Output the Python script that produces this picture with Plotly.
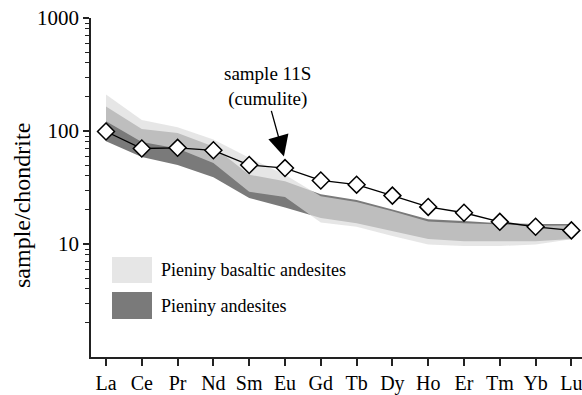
import plotly.graph_objects as go

elements = ["La", "Ce", "Pr", "Nd", "Sm", "Eu", "Gd", "Tb", "Dy", "Ho", "Er", "Tm", "Yb", "Lu"]
sample_11s = [99, 70, 71, 67.5, 50, 47, 36.5, 33.5, 26.8, 21.3, 18.9, 15.7, 14.2, 13.2]

basaltic_upper = [210, 125, 108, 84, 58, 41, 26.5, 23.5, 19.5, 15.8, 15.3, 14.8, 14.5, 14.6]
basaltic_lower = [122, 80, 70, 52, 29, 26, 15.5, 14.2, 11.8, 9.9, 9.6, 9.6, 9.9, 11.0]
andesite_upper = [165, 104, 96, 73, 41, 36, 27.5, 24.5, 20.2, 16.6, 16.0, 15.3, 15.0, 15.0]
andesite_lower = [81, 59, 50, 39, 25.5, 21, 17.0, 15.3, 13.0, 11.1, 10.6, 10.6, 10.6, 11.1]

y_tick_vals = [10, 100, 1000]
y_tick_text = ["10", "100", "1000"]
y_minor_vals = [m * d for d in (1, 10, 100) for m in range(2, 10)]

legend_labels = ["Pieniny basaltic andesites", "Pieniny andesites"]

FONT = "Liberation Serif"
DARK = "#7a7a7a"
LIGHT = "rgba(219,219,219,0.7)"

idx = list(range(len(elements)))

fig = go.Figure()

fig.add_trace(go.Scatter(
    x=idx + idx[::-1], y=andesite_upper + andesite_lower[::-1],
    fill="toself", fillcolor=DARK, line=dict(width=0), mode="lines",
    hoverinfo="skip", showlegend=False))
fig.add_trace(go.Scatter(
    x=idx + idx[::-1], y=basaltic_upper + basaltic_lower[::-1],
    fill="toself", fillcolor=LIGHT, line=dict(width=0), mode="lines",
    hoverinfo="skip", showlegend=False))
fig.add_trace(go.Scatter(
    x=idx, y=sample_11s, mode="lines+markers",
    line=dict(color="black", width=1.3),
    marker=dict(symbol="diamond", size=13, color="white",
                line=dict(color="black", width=1.5)),
    showlegend=False))

L, T, B = 91, 18, 38
W, H = 582, 395
pw, ph = W - L, H - T - B
x0px = 106
step = 35.8
xmin = -(x0px - L) / step
xmax = xmin + pw / step

fig.update_layout(
    width=W, height=H,
    margin=dict(l=L, r=0, t=T, b=B, pad=0),
    paper_bgcolor="white", plot_bgcolor="white",
    font=dict(family=FONT, color="black"),
    showlegend=False,
    xaxis=dict(
        range=[xmin, xmax], tickmode="array", tickvals=idx, ticktext=elements,
        showgrid=False, zeroline=False, showline=True, linecolor="#222",
        linewidth=1.5, ticks="outside", ticklen=7, tickwidth=1.5,
        tickcolor="#222", tickfont=dict(family=FONT, size=20, color="black"),
        ticklabeloverflow="allow", automargin=False),
    yaxis=dict(
        type="log", range=[0, 3], tickmode="array", tickvals=y_tick_vals,
        ticktext=y_tick_text, showgrid=False, zeroline=False, showline=True,
        linecolor="#222", linewidth=1.5, ticks="outside", ticklen=6,
        tickwidth=1.5, tickcolor="#222",
        tickfont=dict(family=FONT, size=21, color="black"),
        ticklabeloverflow="allow",
        minor=dict(tickmode="array", tickvals=y_minor_vals, ticks="outside",
                   ticklen=4, tickwidth=1.2, tickcolor="#222", showgrid=False),
        automargin=False),
)

# y axis title
fig.add_annotation(
    text="sample/chondrite", textangle=-90, xref="paper", yref="paper",
    x=(22 - L) / pw, y=(H - B - 206) / ph, showarrow=False,
    font=dict(family=FONT, size=24, color="black"),
    xanchor="center", yanchor="middle")

# sample label and arrow
fig.add_annotation(
    text="sample 11S<br>(cumulite)", xref="x", yref="y",
    x=(267 - x0px) / step, y=2.39, showarrow=False,
    font=dict(family=FONT, size=19, color="black"),
    xanchor="center", yanchor="middle", align="center")
fig.add_annotation(
    text="", xref="x", yref="y", x=elements.index("Eu") - 0.03, y=1.775,
    axref="pixel", ayref="pixel", ax=-13, ay=-47,
    showarrow=True, arrowhead=2, arrowsize=3.2, arrowwidth=1.3,
    arrowcolor="black", standoff=0, startstandoff=0)

# legend
swatch_colors = ["#e6e6e6", DARK]
swatch_y = [(257, 283), (292, 319)]
for lab, col, (ya, yb) in zip(legend_labels, swatch_colors, swatch_y):
    fig.add_shape(type="rect", xref="paper", yref="paper",
                  x0=(112 - L) / pw, x1=(152 - L) / pw,
                  y0=(H - B - yb) / ph, y1=(H - B - ya) / ph,
                  fillcolor=col, line=dict(width=0), layer="above")
    fig.add_annotation(text=lab, xref="paper", yref="paper",
                       x=(159 - L) / pw, y=(H - B - (ya + yb) / 2) / ph,
                       showarrow=False, xanchor="left", yanchor="middle",
                       font=dict(family=FONT, size=18, color="black"))

fig.write_html("out.html")
